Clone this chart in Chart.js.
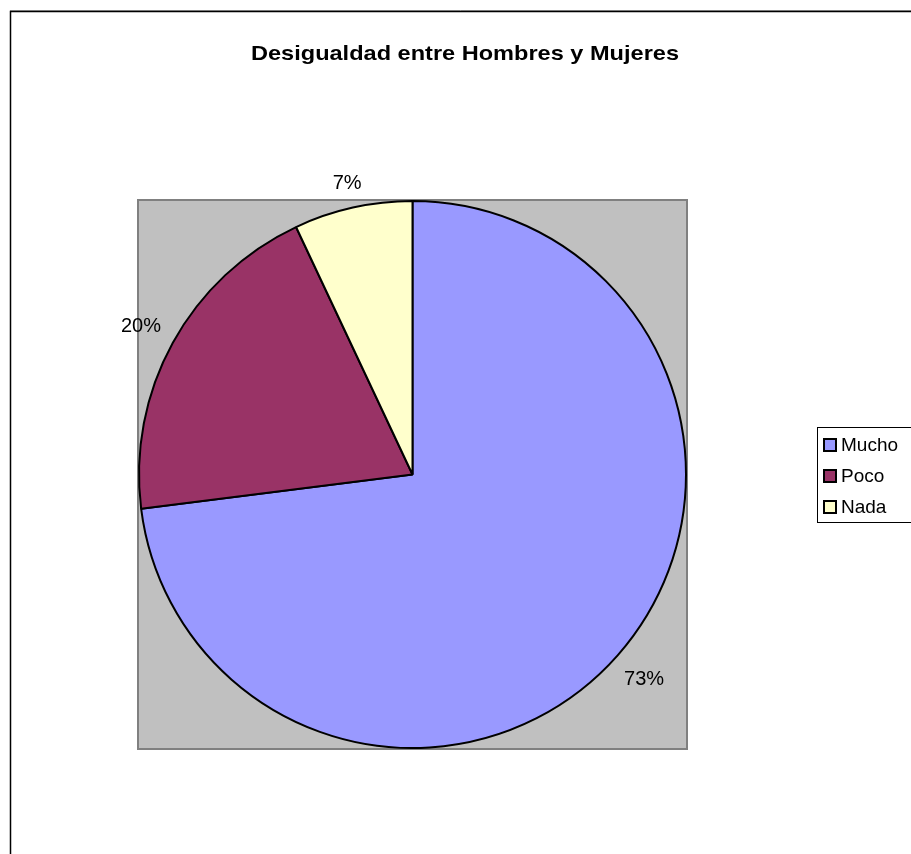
<!DOCTYPE html>
<html>
<head>
<meta charset="utf-8">
<script src="https://cdn.jsdelivr.net/npm/chart.js@4.4.0/dist/chart.umd.min.js"></script>
<style>
  html, body { margin: 0; padding: 0; background: #fff; }
  #myChart { display: block; }
</style>
</head>
<body>
<canvas id="myChart" width="911" height="854"></canvas>
<script>
const titleText = "Desigualdad entre Hombres y Mujeres";
const categories = ["Mucho", "Poco", "Nada"];
const values = [73, 20, 7];
const colors = ["#9999FF", "#993366", "#FFFFCC"];

const FONT = "Arial, 'Liberation Sans', sans-serif";

// marco, area gris, titulo, etiquetas y leyenda al estilo Excel
const excelLook = {
  id: "excelLook",
  beforeDraw(chart) {
    const ctx = chart.ctx;
    const a = chart.chartArea;
    ctx.save();
    ctx.fillStyle = "#fff";
    ctx.fillRect(0, 0, chart.width, chart.height);
    // marco exterior
    ctx.strokeStyle = "#a0a0a0";
    ctx.lineWidth = 1;
    ctx.beginPath();
    ctx.moveTo(10, 10.5);
    ctx.lineTo(chart.width, 10.5);
    ctx.stroke();
    ctx.strokeStyle = "#000";
    ctx.lineWidth = 1.5;
    ctx.beginPath();
    ctx.moveTo(10.5, chart.height);
    ctx.lineTo(10.5, 11.5);
    ctx.lineTo(chart.width, 11.5);
    ctx.stroke();
    // area de trazado
    ctx.fillStyle = "#C0C0C0";
    ctx.fillRect(a.left, a.top, a.right - a.left, a.bottom - a.top);
    ctx.strokeStyle = "#808080";
    ctx.lineWidth = 2;
    ctx.strokeRect(a.left, a.top, a.right - a.left, a.bottom - a.top);
    // titulo (ancho como en el original)
    ctx.fillStyle = "#000";
    ctx.font = "bold 21px " + FONT;
    ctx.textAlign = "center";
    ctx.textBaseline = "middle";
    const tw = ctx.measureText(titleText).width;
    ctx.translate(465, 54);
    ctx.scale(428 / tw, 1);
    ctx.fillText(titleText, 0, 0);
    ctx.restore();
  },
  afterDraw(chart) {
    const ctx = chart.ctx;
    const meta = chart.getDatasetMeta(0);
    const total = values.reduce((s, v) => s + v, 0);
    ctx.save();
    ctx.font = "20px " + FONT;
    ctx.fillStyle = "#000";
    ctx.textAlign = "center";
    ctx.textBaseline = "middle";
    meta.data.forEach((arc, i) => {
      const p = arc.getProps(["x", "y", "startAngle", "endAngle", "outerRadius"], true);
      const mid = (p.startAngle + p.endAngle) / 2;
      const dx = Math.cos(mid), dy = Math.sin(mid);
      const txt = Math.round(values[i] / total * 100) + "%";
      const w = ctx.measureText(txt).width;
      const d = p.outerRadius + 15 + Math.abs(dx) * w / 2 + Math.abs(dy) * 8;
      ctx.fillText(txt, p.x + dx * d, p.y + dy * d + 1);
    });

    // leyenda
    const lx = 817, ly = 427, lw = 110, lh = 95;
    ctx.fillStyle = "#fff";
    ctx.fillRect(lx, ly, lw, lh);
    ctx.strokeStyle = "#000";
    ctx.lineWidth = 1;
    ctx.strokeRect(lx + 0.5, ly + 0.5, lw, lh);
    ctx.font = "19px " + FONT;
    ctx.textAlign = "left";
    categories.forEach((c, i) => {
      const y = 445 + i * 31;
      ctx.fillStyle = colors[i];
      ctx.fillRect(824, y - 6, 12, 12);
      ctx.strokeStyle = "#000";
      ctx.lineWidth = 2;
      ctx.strokeRect(824, y - 6, 12, 12);
      ctx.fillStyle = "#000";
      ctx.fillText(c, 841, y + 1);
    });
    ctx.restore();
  }
};

new Chart(document.getElementById("myChart").getContext("2d"), {
  type: "pie",
  data: {
    labels: categories,
    datasets: [{
      data: values,
      backgroundColor: colors,
      borderColor: "#000",
      borderWidth: 2
    }]
  },
  options: {
    responsive: false,
    animation: false,
    layout: {
      padding: { left: 138, right: 224, top: 200, bottom: 105 }
    },
    plugins: {
      legend: { display: false },
      title: { display: false },
      tooltip: { enabled: false }
    }
  },
  plugins: [excelLook]
});
</script>
</body>
</html>
